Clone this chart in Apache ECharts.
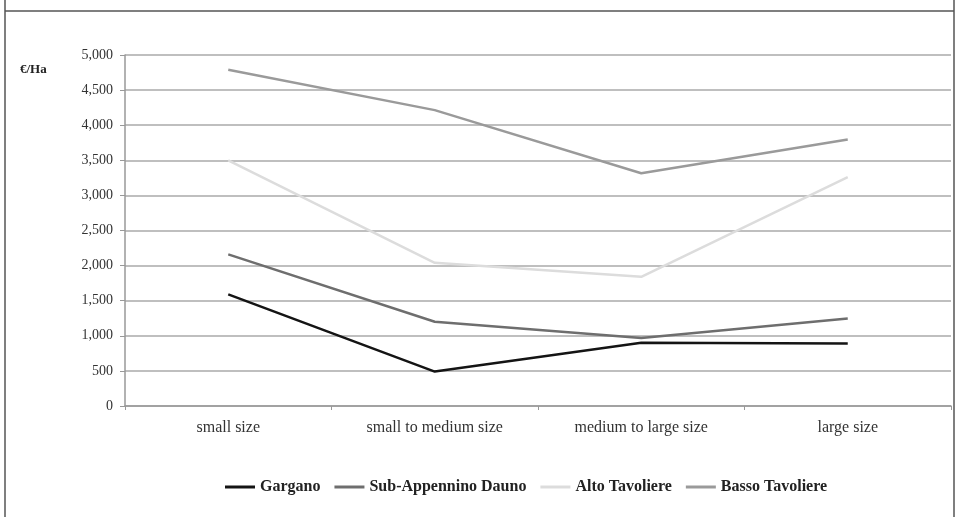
<!DOCTYPE html>
<html><head><meta charset="utf-8">
<script src="https://cdn.jsdelivr.net/npm/echarts@6/dist/echarts.min.js"></script>
<style>html,body{margin:0;padding:0;background:#fff}#c{width:956px;height:517px}</style>
</head><body><div id="c"></div>
<script>
const categories = ['small size', 'small to medium size', 'medium to large size', 'large size'];
const seriesNames = ['Gargano', 'Sub-Appennino Dauno', 'Alto Tavoliere', 'Basso Tavoliere'];
const gargano = [1590, 490, 900, 890];
const subAppennino = [2160, 1200, 970, 1245];
const altoTavoliere = [3500, 2040, 1840, 3260];
const bassoTavoliere = [4790, 4215, 3315, 3795];
const yTicks = [0, 500, 1000, 1500, 2000, 2500, 3000, 3500, 4000, 4500, 5000];
const colors = ['#141414', '#6e6e6e', '#dcdcdc', '#9a9a9a'];
const values = [gargano, subAppennino, altoTavoliere, bassoTavoliere];
const font = 'Liberation Serif';

const chart = echarts.init(document.getElementById('c'), null, {renderer: 'canvas'});
chart.setOption({
  backgroundColor: '#fff',
  animation: false,
  textStyle: {fontFamily: font},
  graphic: [
    {type: 'line', shape: {x1: 5, y1: 11, x2: 954, y2: 11}, style: {stroke: '#555', lineWidth: 1.5}},
    {type: 'line', shape: {x1: 5, y1: 0, x2: 5, y2: 517}, style: {stroke: '#555', lineWidth: 1.5}},
    {type: 'line', shape: {x1: 954, y1: 0, x2: 954, y2: 517}, style: {stroke: '#555', lineWidth: 1.5}},
    {type: 'text', left: 20, top: 63, style: {text: '€/Ha', font: 'bold 13px "Liberation Serif"', fill: '#222'}}
  ],
  grid: {left: 125, right: 5, top: 55, bottom: 111, containLabel: false},
  legend: {
    top: 474, left: 220,
    itemWidth: 30, itemHeight: 3, itemGap: 14,
    icon: 'rect',
    textStyle: {fontFamily: font, fontWeight: 'bold', fontSize: 16, color: '#222'},
    data: seriesNames
  },
  xAxis: {
    type: 'category', data: categories, boundaryGap: true,
    axisLine: {lineStyle: {color: '#999', width: 1.5}},
    axisTick: {show: true, length: 4, lineStyle: {color: '#999'}},
    axisLabel: {fontFamily: font, fontSize: 16, color: '#333', margin: 14}
  },
  yAxis: {
    type: 'value', min: yTicks[0], max: yTicks[yTicks.length - 1], interval: 500,
    axisLine: {show: true, lineStyle: {color: '#999', width: 1.5}},
    axisTick: {show: true, length: 5, lineStyle: {color: '#999'}},
    axisLabel: {fontFamily: font, fontSize: 14, color: '#333', margin: 12,
      formatter: v => v.toLocaleString('en-US')},
    splitLine: {lineStyle: {color: '#aaa', width: 1.5}}
  },
  series: seriesNames.map((n, i) => ({
    name: n, type: 'line', data: values[i], symbol: 'none',
    lineStyle: {color: colors[i], width: 2.5}, itemStyle: {color: colors[i]}
  }))
});
</script></body></html>
